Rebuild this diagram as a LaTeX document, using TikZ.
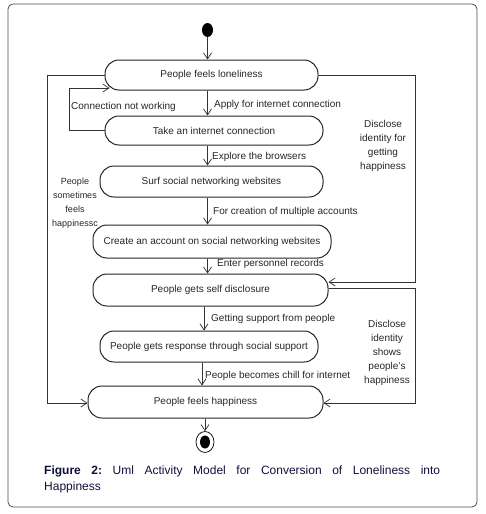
\documentclass[tikz,border=0pt]{standalone}
\usepackage{fontspec}
\setmainfont{Liberation Sans}
\usetikzlibrary{arrows.meta,calc,shapes.geometric}
\definecolor{capblue}{RGB}{15,15,60}
\begin{document}
\begin{tikzpicture}[x=1pt,y=-1pt,
  act/.style={draw=black!85, line width=1pt, rounded corners=14pt, inner sep=0pt,
    text=black!85, font=\fontsize{10}{12}\selectfont},
  arr/.style={draw=black!80, line width=0.7pt,
    -{Straight Barb[length=6pt,width=8pt,line width=0.7pt]}},
  lbl/.style={inner sep=1pt, text=black!85, font=\fontsize{10}{12}\selectfont},
  mlbl/.style={lbl, align=center, font=\fontsize{10}{14}\selectfont},
  framebox/.style={draw=black!70, line width=0.8pt, rounded corners=5pt}]
\useasboundingbox (0,0) rectangle (485,514);
\draw[framebox] (8,4) rectangle (477,507);

% start / end
\node[fill=black, ellipse, minimum width=11pt, minimum height=14pt, inner sep=0pt] (s) at (207.5,30) {};
\node[draw=black, ellipse, line width=0.7pt, minimum width=18pt, minimum height=21pt, inner sep=0pt] (e) at (205,442) {};
\node[fill=black, ellipse, minimum width=10pt, minimum height=13pt, inner sep=0pt] (ei) at (205,442) {};

% activities
\node[act, minimum width=213pt, minimum height=30pt] (n1) at (211.5,75) {People feels loneliness};
\node[act, minimum width=218pt, minimum height=29pt] (n2) at (214,130.5) {Take an internet connection};
\node[act, minimum width=223pt, minimum height=31pt] (n3) at (211.5,181.5) {Surf social networking websites};
\node[act, minimum width=238pt, minimum height=33pt] (n4) at (212,241.5) {Create an account on social networking websites};
\node[act, minimum width=235pt, minimum height=32pt] (n5) at (210.5,290) {People gets self disclosure};
\node[act, minimum width=218pt, minimum height=31pt] (n6) at (209,346.5) {People gets response through social support};
\node[act, minimum width=235pt, minimum height=32pt] (n7) at (205.5,402) {People feels happiness};

\coordinate (c204) at (204,0);
\coordinate (c202) at (202,0);
\coordinate (rx) at (415,0);
\coordinate (lx) at (47,0);
\coordinate (ix) at (69,0);
\coordinate (n1in) at ($(n1.west)+(5,13)$);
\coordinate (n5in) at ($(n5.east)+(0,-8)$);
\coordinate (n5out) at ($(n5.east)+(0,-2)$);
\coordinate (n7rin) at ($(n7.east)+(0,1)$);
\coordinate (n7lin) at ($(n7.west)+(0,1)$);

% main flow
\draw[arr] (s) -- (n1.north -| s);
\draw[arr] (n1.south -| s) -- (n2.north -| s);
\draw[arr] (n2.south -| s) -- (n3.north -| s);
\draw[arr] (n3.south -| s) -- (n4.north -| s);
\draw[arr] (n4.south -| s) -- (n5.north -| s);
\draw[arr] (n5.south -| c204) -- (n6.north -| c204);
\draw[arr] (n6.south -| c202) -- (n7.north -| c202);
\draw[arr] (n7.south -| e) -- (e);

% loops
\draw[arr] (n2.west) -- (n2.west -| ix) -- (n1in -| ix) -- (n1in);
\draw[arr] (n1.east) -- (n1.east -| rx) -- (n5in -| rx) -- (n5in);
\draw[arr] (n5out) -- (n5out -| rx) -- (n7rin -| rx) -- (n7rin);
\draw[arr] (n1.west) -- (n1.west -| lx) -- (n7lin -| lx) -- (n7lin);

% labels
\node[lbl, anchor=west] (l1) at (213,105) {Apply for internet connection};
\node[lbl, anchor=west] (l2) at (70,107) {Connection not working};
\node[lbl, anchor=west] (l3) at (211,157) {Explore the browsers};
\node[lbl, anchor=west] (l4) at (212,212) {For creation of multiple accounts};
\node[lbl, anchor=west] (l5) at (216,264) {Enter personnel records};
\node[lbl, anchor=west] (l6) at (210,319) {Getting support from people};
\node[lbl, anchor=west] (l7) at (204,376) {People becomes chill for internet};
\node[mlbl] (l8) at (383,146) {Disclose\\identity for\\getting\\happiness};
\node[mlbl] (l9) at (387,353) {Disclose\\identity\\shows\\people's\\happiness};
\node[mlbl, font=\fontsize{9}{14}\selectfont] (l10) at (75,203) {People\\sometimes\\feels\\happinessc};

% caption
\node[anchor=north west, inner sep=0pt, text width=396pt, align=justify, text=capblue,
  font=\fontsize{12}{16}\selectfont\frenchspacing] (cap) at (44,466)
  {\textbf{Figure 2:} Uml Activity Model for Conversion of Loneliness into\linebreak Happiness};
\end{tikzpicture}
\end{document}
